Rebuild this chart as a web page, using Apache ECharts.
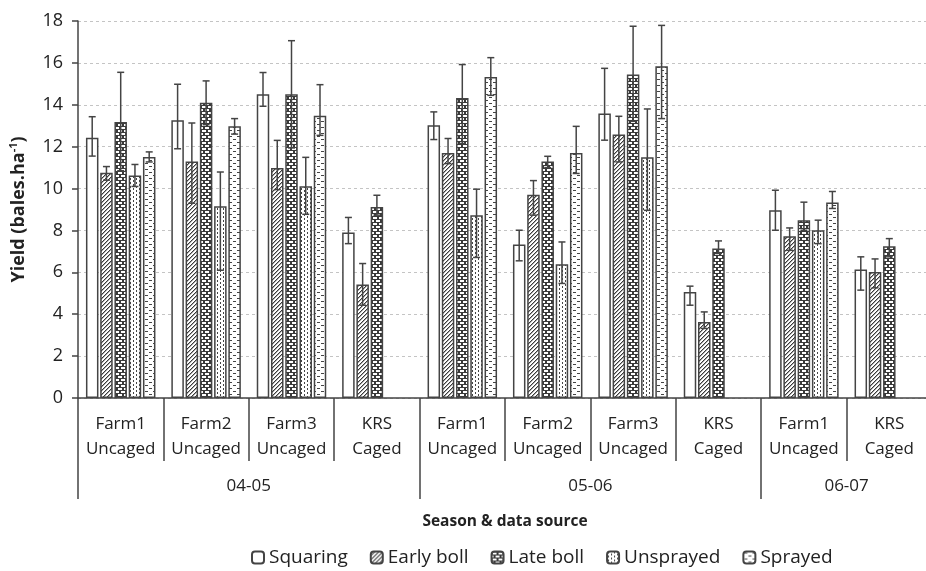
<!DOCTYPE html>
<html>
<head>
<meta charset="utf-8">
<script src="https://cdn.jsdelivr.net/npm/echarts@6/dist/echarts.min.js"></script>
<style>
html,body{margin:0;padding:0;background:#fff;}
#chart{width:926px;height:571px;}
</style>
</head>
<body>
<div id="chart"></div>
<script>
// ---------- data ----------
const categories = ['Farm1\nUncaged','Farm2\nUncaged','Farm3\nUncaged','KRS\nCaged',
                    'Farm1\nUncaged','Farm2\nUncaged','Farm3\nUncaged','KRS\nCaged',
                    'Farm1\nUncaged','KRS\nCaged'];
const seasons = ['04-05','05-06','06-07'];
const seasonSizes = [4, 4, 2];
const seriesNames = ['Squaring','Early boll','Late boll','Unsprayed','Sprayed'];

const squaring   = [12.42, 13.26, 14.50, 7.90, 13.02, 7.33, 13.58, 5.06, 8.96, 6.13];
const squaringLo = [11.55, 11.90, 13.93, 7.37, 12.34, 6.55, 12.31, 4.43, 8.01, 5.15];
const squaringHi = [13.43, 14.98, 15.54, 8.62, 13.66, 8.01, 15.74, 5.34, 9.92, 6.74];

const earlyBoll   = [10.75, 11.29, 10.98, 5.42, 11.70, 9.71, 12.58, 3.63, 7.72, 6.02];
const earlyBollLo = [10.40,  9.30,  9.95, 4.43, 11.19, 8.73, 11.27, 3.32, 7.05, 5.26];
const earlyBollHi = [11.05, 13.13, 12.30, 6.42, 12.39, 10.38, 13.45, 4.11, 8.12, 6.64];

const lateBoll   = [13.18, 14.10, 14.50, 9.12, 14.32, 11.29, 15.44, 7.14, 8.49, 7.25];
const lateBollLo = [10.85, 13.05, 11.94, 8.73, 12.15, 11.00, 13.21, 6.90, 8.01, 6.74];
const lateBollHi = [15.55, 15.14, 17.06, 9.68, 15.92, 11.54, 17.75, 7.50, 9.35, 7.61];

const unsprayed   = [10.62, 9.15, 10.11, null, 8.73, 6.39, 11.49, null, 8.01, null];
const unsprayedLo = [10.10, 6.10,  8.77, null, 6.71, 5.47,  8.96, null, 7.37, null];
const unsprayedHi = [11.15, 10.79, 11.49, null, 9.97, 7.45, 13.80, null, 8.49, null];

const sprayed   = [11.51, 12.97, 13.48, null, 15.33, 11.70, 15.84, null, 9.33, null];
const sprayedLo = [11.27, 12.60, 12.54, null, 14.45, 10.72, 13.34, null, 9.05, null];
const sprayedHi = [11.75, 13.34, 14.96, null, 16.25, 12.97, 17.79, null, 9.86, null];

const yTicks = {min: 0, max: 18, interval: 2};

// ---------- styling ----------
const FONT = "'Open Sans', sans-serif";
const EDGE = '#444';
const BAR_W = 12.5;
const BAR_GAP = 0.14; // fraction of bar width

function makePattern(w, h, bg, draw) {
  const c = document.createElement('canvas');
  c.width = w; c.height = h;
  const ctx = c.getContext('2d');
  ctx.fillStyle = bg; ctx.fillRect(0, 0, w, h);
  draw(ctx);
  return {image: c, repeat: 'repeat'};
}
const fills = [
  '#ffffff',
  makePattern(4, 4, '#fff', ctx => {
    ctx.fillStyle = '#3a3a3a';
    ctx.fillRect(3, 0, 1, 1); ctx.fillRect(2, 1, 1, 1); ctx.fillRect(1, 2, 1, 1); ctx.fillRect(0, 3, 1, 1);
    ctx.fillStyle = '#a8a8a8';
    ctx.fillRect(0, 0, 1, 1); ctx.fillRect(3, 1, 1, 1); ctx.fillRect(2, 2, 1, 1); ctx.fillRect(1, 3, 1, 1);
  }),
  makePattern(6, 6, '#3a3a3a', ctx => {
    ctx.fillStyle = '#fff';
    ctx.fillRect(1, 1, 4, 2);
    ctx.fillRect(4, 4, 4, 2); ctx.fillRect(-2, 4, 4, 2);
  }),
  makePattern(6, 4, '#fff', ctx => {
    ctx.fillStyle = '#444';
    ctx.fillRect(1, 0, 1, 2); ctx.fillRect(4, 2, 1, 2);
  }),
  makePattern(8, 6, '#fff', ctx => {
    ctx.fillStyle = '#444';
    ctx.fillRect(1, 1, 3, 1); ctx.fillRect(5, 4, 3, 1);
  })
];

const values = [squaring, earlyBoll, lateBoll, unsprayed, sprayed];
const lows = [squaringLo, earlyBollLo, lateBollLo, unsprayedLo, sprayedLo];
const highs = [squaringHi, earlyBollHi, lateBollHi, unsprayedHi, sprayedHi];

const barSeries = seriesNames.map((name, i) => ({
  name: name,
  type: 'bar',
  barWidth: BAR_W,
  barGap: (BAR_GAP * 100) + '%',
  data: values[i],
  itemStyle: {color: fills[i], borderColor: EDGE, borderWidth: 1.5},
  z: 2
}));

const errSeries = seriesNames.map((name, i) => {
  const data = [];
  categories.forEach((c, k) => {
    if (values[i][k] != null) data.push([k, lows[i][k], highs[i][k]]);
  });
  const offset = (i - (seriesNames.length - 1) / 2) * BAR_W * (1 + BAR_GAP);
  return {
    name: name + ' err',
    type: 'custom',
    xAxisIndex: 0,
    data: data,
    z: 5,
    silent: true,
    renderItem: function (params, api) {
      const lo = api.coord([api.value(0), api.value(1)]);
      const hi = api.coord([api.value(0), api.value(2)]);
      const x = lo[0] + offset;
      const cap = 3.5;
      const st = {stroke: EDGE, lineWidth: 1.5};
      return {
        type: 'group',
        children: [
          {type: 'line', shape: {x1: x, y1: lo[1], x2: x, y2: hi[1]}, style: st},
          {type: 'line', shape: {x1: x - cap, y1: lo[1], x2: x + cap, y2: lo[1]}, style: st},
          {type: 'line', shape: {x1: x - cap, y1: hi[1], x2: x + cap, y2: hi[1]}, style: st}
        ]
      };
    }
  };
});

// season boundaries / centres on a 0..N value axis
const seasonBounds = [0];
const seasonCentres = [];
seasonSizes.forEach(s => {
  const start = seasonBounds[seasonBounds.length - 1];
  seasonCentres.push(start + s / 2);
  seasonBounds.push(start + s);
});

const chart = echarts.init(document.getElementById('chart'), null, {renderer: 'canvas'});
chart.setOption({
  animation: false,
  backgroundColor: '#fff',
  textStyle: {fontFamily: FONT},
  grid: {left: 78, top: 21, width: 854, height: 377, outerBoundsMode: 'none', containLabel: false},
  legend: {
    data: seriesNames,
    left: 246, top: 543,
    itemWidth: 12, itemHeight: 12, itemGap: 22,
    textStyle: {fontFamily: FONT, fontSize: 19, color: '#222'}
  },
  xAxis: [
    {
      type: 'category',
      data: categories,
      position: 'bottom',
      axisLine: {lineStyle: {color: EDGE, width: 1.5}},
      axisTick: {show: true, length: 63, interval: 0, lineStyle: {color: EDGE, width: 1.5}},
      axisLabel: {interval: 0, fontFamily: FONT, fontSize: 17, color: '#222', lineHeight: 25, margin: 14},
      name: 'Season & data source',
      nameLocation: 'middle',
      nameGap: 116,
      nameTextStyle: {fontFamily: FONT, fontSize: 15.5, fontWeight: 'bold', color: '#222'}
    },
    {
      type: 'value',
      position: 'bottom',
      min: 0, max: categories.length,
      axisLine: {show: false},
      splitLine: {show: false},
      axisTick: {show: true, length: 101, customValues: seasonBounds, lineStyle: {color: EDGE, width: 1.5}},
      axisLabel: {
        customValues: seasonCentres,
        formatter: v => seasons[seasonCentres.indexOf(v)] || '',
        fontFamily: FONT, fontSize: 17, color: '#222', margin: 80
      }
    }
  ],
  yAxis: {
    type: 'value',
    min: yTicks.min, max: yTicks.max, interval: yTicks.interval,
    axisLine: {show: true, lineStyle: {color: EDGE, width: 1.5}},
    axisTick: {show: true, length: 6, lineStyle: {color: EDGE, width: 1.5}},
    axisLabel: {fontFamily: FONT, fontSize: 18, color: '#222', margin: 15},
    splitLine: {lineStyle: {color: '#c4c4c4', type: [3, 3], width: 1}},
    name: '{b|Yield (bales.ha}{s|-1}{b|)}',
    nameLocation: 'middle',
    nameGap: 48,
    nameTextStyle: {
      rich: {
        b: {fontFamily: FONT, fontSize: 18, fontWeight: 'bold', color: '#222', lineHeight: 22},
        s: {fontFamily: FONT, fontSize: 11, fontWeight: 'bold', color: '#222', lineHeight: 22, verticalAlign: 'top', padding: [0, 0, 7, 0]}
      }
    }
  },
  series: barSeries.concat(errSeries)
});
</script>
</body>
</html>
